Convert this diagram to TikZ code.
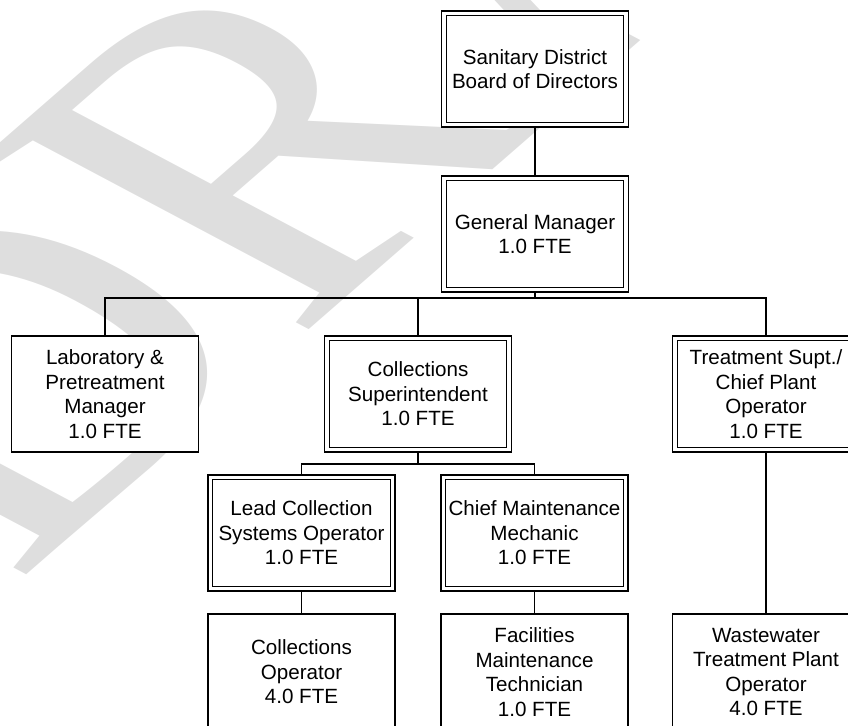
\documentclass[tikz,border=0pt]{standalone}
\usepackage{fontspec}
\setmainfont{Liberation Sans}
\newfontfamily\wmfont{Liberation Serif}
\usepackage{tikz}
\usetikzlibrary{positioning, calc}

\tikzset{
    post/.style={draw, fill=white, line width=1.2pt, minimum width=187pt, minimum height=116pt,
        inner sep=0pt, align=center, font=\fontsize{20.6}{24.5}\selectfont},
    keypost/.style={post, double, double distance=3.6pt, minimum width=182.2pt,
        minimum height=111.2pt, outer sep=2.4pt},
    link/.style={line width=1.2pt},
}

\begin{document}
\begin{tikzpicture}[x=1pt, y=-1pt]
        \useasboundingbox (0,0) rectangle (848,725);
        \clip (0,0) rectangle (848,725);

        % Watermark
        \node[yscale=0.68, rotate=52, anchor=base west, inner sep=0pt, text=black!13,
            font=\wmfont\fontsize{630}{630}\selectfont] (wm) at (15,585) {DRAFT};

        % Top
        \node[keypost] (board) at (535,69) {Sanitary District\\Board of Directors};
        \node[keypost] (gm) at (535,234) {General Manager\\1.0 FTE};

        % Managers
        \node[post] (lab) at (105,394) {Laboratory \&\\Pretreatment\\Manager\\1.0 FTE};
        \node[keypost] (csupt) at (418,394) {Collections\\Superintendent\\1.0 FTE};
        \node[keypost] (treat) at (766,394) {Treatment Supt./\\Chief Plant\\Operator\\1.0 FTE};

        % Collections staff
        \node[keypost] (lead) at (301.5,533) {Lead Collection\\Systems Operator\\1.0 FTE};
        \node[keypost] (chiefm) at (534.5,533) {Chief Maintenance\\Mechanic\\1.0 FTE};
        \node[post] (cop) at (301.5,672) {Collections\\Operator\\4.0 FTE};
        \node[post] (fac) at (534.5,672) {Facilities\\Maintenance\\Technician\\1.0 FTE};
        \node[post] (wwtp) at (766,672) {Wastewater\\Treatment Plant\\Operator\\4.0 FTE};

        % Reporting lines
        \draw[link] (board) -- (gm);
        \draw[link] (gm.south) -- ++(0,6) -| (lab.north);
        \draw[link] (gm.south) -- ++(0,6) -| (csupt.north);
        \draw[link] (gm.south) -- ++(0,6) -| (treat.north);
        \draw[link] (csupt.south) -- ++(0,12) -| (lead.north);
        \draw[link] (csupt.south) -- ++(0,12) -| (chiefm.north);
        \draw[link] (lead) -- (cop);
        \draw[link] (chiefm) -- (fac);
        \draw[link] (treat) -- (wwtp);

    \end{tikzpicture}
\end{document}
